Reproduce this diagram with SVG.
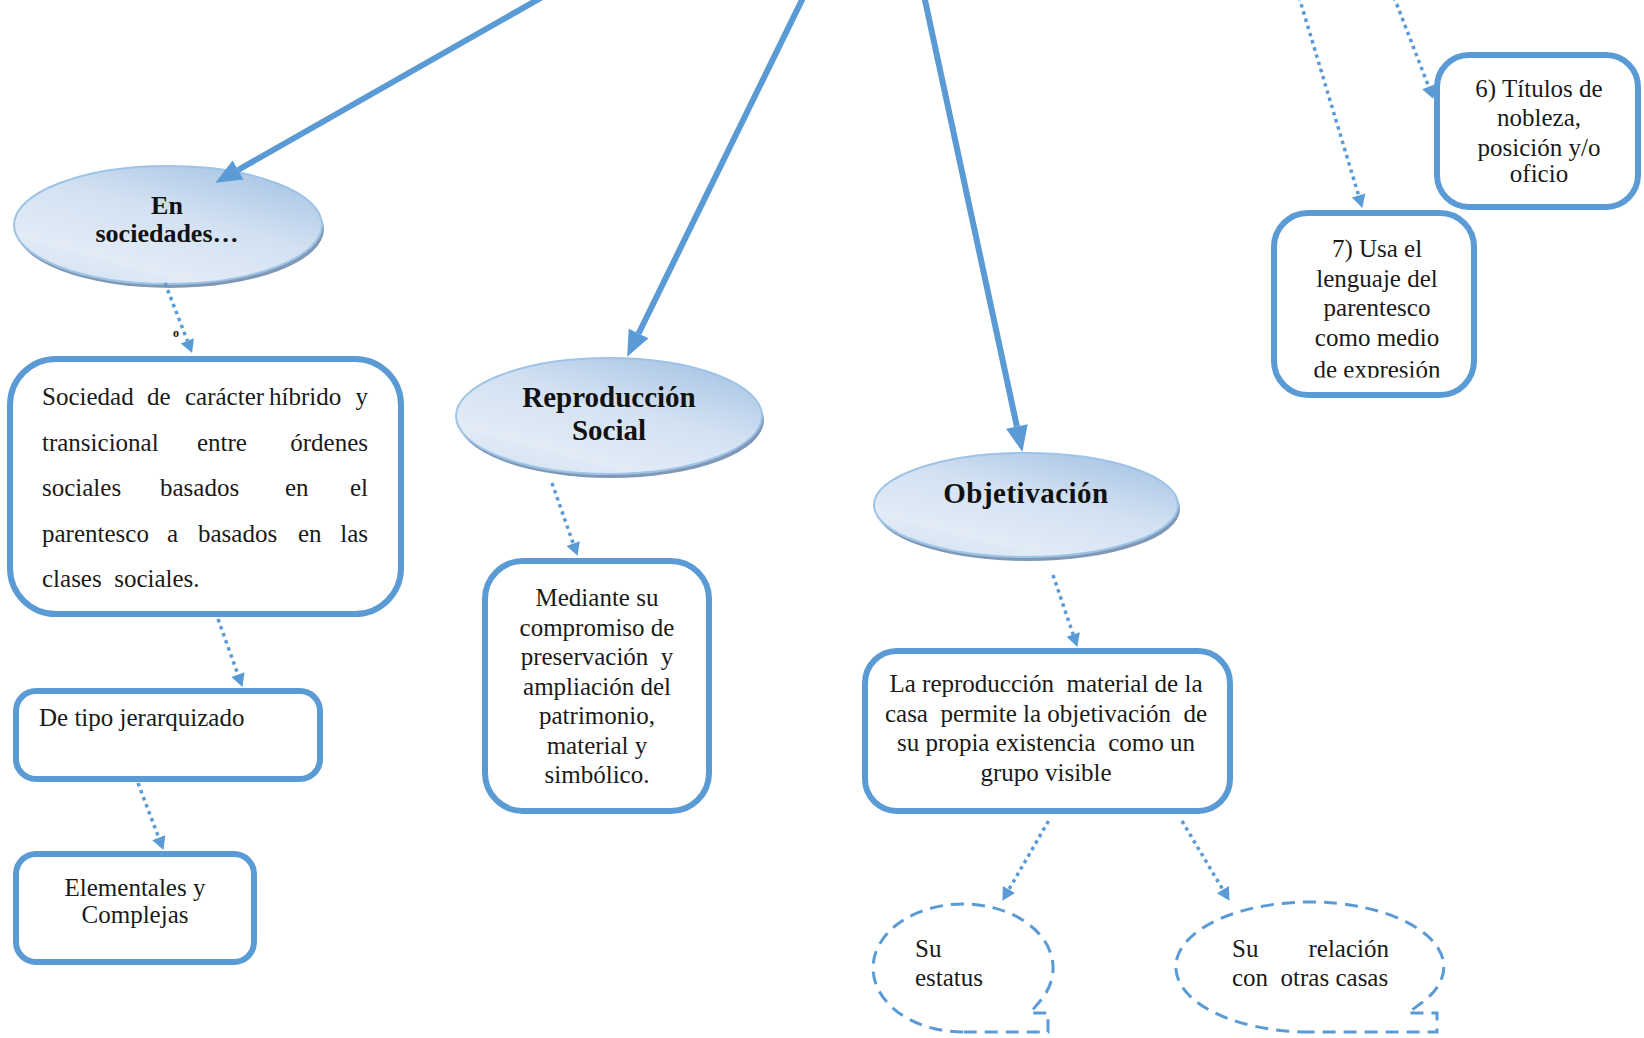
<svg xmlns="http://www.w3.org/2000/svg" width="1644" height="1038" viewBox="0 0 1644 1038">
  <style>
    .box { fill: #ffffff; stroke: #5b9bd5; stroke-width: 6; }
    .bubble { fill: url(#bubbleFill); stroke: #9dc3e6; stroke-width: 2; }
    .bubble-shadow { fill: #8098b6; }
    .title { font-family: "Liberation Serif", "DejaVu Serif", serif; font-weight: bold; fill: #111111; text-anchor: middle; }
    .body { font-family: "Liberation Serif", "DejaVu Serif", serif; font-size: 25px; fill: #1a1a1a; white-space: pre; }
    .mid { text-anchor: middle; }
    .thick { stroke: #5b9bd5; stroke-width: 6; fill: none; marker-end: url(#headBig); }
    .dotted { stroke: #5b9bd5; stroke-width: 3.5; stroke-dasharray: 3.5 4; fill: none; marker-end: url(#headSmall); }
    .callout { fill: none; stroke: #5b9bd5; stroke-width: 3; stroke-dasharray: 13 8; }
  </style>
  <defs>
    <linearGradient id="bubbleFill" x1="0.9" y1="0" x2="0.2" y2="1">
      <stop offset="0" stop-color="#a3c1e3"/>
      <stop offset="0.45" stop-color="#d2e1f2"/>
      <stop offset="0.8" stop-color="#e2ebf6"/>
      <stop offset="1" stop-color="#d3e2f2"/>
    </linearGradient>
    <marker id="headBig" markerUnits="userSpaceOnUse" markerWidth="28" markerHeight="24" refX="0" refY="0" orient="auto" overflow="visible">
      <path d="M0,-11 L26,0 L0,11 z" fill="#5b9bd5"/>
    </marker>
    <marker id="headSmall" markerUnits="userSpaceOnUse" markerWidth="14" markerHeight="14" refX="0" refY="0" orient="auto" overflow="visible">
      <path d="M0,-7 L13,0 L0,7 z" fill="#5b9bd5"/>
    </marker>
    <clipPath id="clip7">
      <rect x="1274" y="213" width="200" height="164.5"/>
    </clipPath>
  </defs>

  <rect width="1644" height="1038" fill="#ffffff"/>

  <!-- oval nodes -->
  <g id="node-sociedades">
    <ellipse class="bubble-shadow" cx="170" cy="229" rx="154" ry="59"/>
    <ellipse class="bubble" cx="168" cy="225" rx="154" ry="59"/>
    <text class="title" font-size="26" x="167" y="214">En</text>
    <text class="title" font-size="26" x="167" y="242">sociedades…</text>
  </g>

  <g id="node-reproduccion">
    <ellipse class="bubble-shadow" cx="611" cy="420" rx="153" ry="58"/>
    <ellipse class="bubble" cx="609" cy="416" rx="153" ry="58"/>
    <text class="title" font-size="29" x="609" y="407">Reproducción</text>
    <text class="title" font-size="29" x="609" y="440">Social</text>
  </g>

  <g id="node-objetivacion">
    <ellipse class="bubble-shadow" cx="1028" cy="509" rx="152" ry="52"/>
    <ellipse class="bubble" cx="1026" cy="505" rx="152" ry="52"/>
    <text class="title" font-size="29" x="1026" y="503" letter-spacing="0.5">Objetivación</text>
  </g>

  <!-- rounded boxes -->
  <g id="node-hibrido">
    <rect class="box" x="10" y="359" width="391" height="255" rx="46"/>
    <text class="body" y="405"><tspan x="42">Sociedad</tspan><tspan x="147">de</tspan><tspan x="185">carácter</tspan><tspan x="269">híbrido</tspan><tspan x="368" text-anchor="end">y</tspan></text>
    <text class="body" y="451"><tspan x="42">transicional</tspan><tspan x="197">entre</tspan><tspan x="368" text-anchor="end">órdenes</tspan></text>
    <text class="body" y="496"><tspan x="42">sociales</tspan><tspan x="160">basados</tspan><tspan x="285">en</tspan><tspan x="368" text-anchor="end">el</tspan></text>
    <text class="body" y="542"><tspan x="42">parentesco</tspan><tspan x="167">a</tspan><tspan x="198">basados</tspan><tspan x="298">en</tspan><tspan x="368" text-anchor="end">las</tspan></text>
    <text class="body" x="42" y="587">clases  sociales.</text>
  </g>

  <g id="node-jerarquizado">
    <rect class="box" x="16" y="691" width="304" height="88" rx="20"/>
    <text class="body" x="39" y="726">De tipo jerarquizado</text>
  </g>

  <g id="node-elementales">
    <rect class="box" x="16" y="854" width="238" height="108" rx="20"/>
    <text class="body mid" x="135" y="896">Elementales y</text>
    <text class="body mid" x="135" y="923">Complejas</text>
  </g>

  <g id="node-mediante">
    <rect class="box" x="485" y="561" width="224" height="250" rx="38"/>
    <text class="body mid" x="597" y="606">Mediante su</text>
    <text class="body mid" x="597" y="635.5">compromiso de</text>
    <text class="body mid" x="597" y="665">preservación  y</text>
    <text class="body mid" x="597" y="694.5">ampliación del</text>
    <text class="body mid" x="597" y="724">patrimonio,</text>
    <text class="body mid" x="597" y="753.5">material y</text>
    <text class="body mid" x="597" y="783">simbólico.</text>
  </g>

  <g id="node-visible">
    <rect class="box" x="865" y="651" width="365" height="160" rx="32"/>
    <text class="body mid" x="1046" y="692">La reproducción  material de la</text>
    <text class="body mid" x="1046" y="721.5">casa  permite la objetivación  de</text>
    <text class="body mid" x="1046" y="751">su propia existencia  como un</text>
    <text class="body mid" x="1046" y="780.5">grupo visible</text>
  </g>

  <g id="node-titulos">
    <rect class="box" x="1437" y="55" width="201" height="152" rx="32"/>
    <text class="body mid" x="1539" y="97">6) Títulos de</text>
    <text class="body mid" x="1539" y="126">nobleza,</text>
    <text class="body mid" x="1539" y="156">posición y/o</text>
    <text class="body mid" x="1539" y="182">oficio</text>
  </g>

  <g id="node-lenguaje">
    <rect class="box" x="1274" y="213" width="200" height="182" rx="34"/>
    <g clip-path="url(#clip7)">
      <text class="body mid" x="1377" y="257">7) Usa el</text>
      <text class="body mid" x="1377" y="286.5">lenguaje del</text>
      <text class="body mid" x="1377" y="316">parentesco</text>
      <text class="body mid" x="1377" y="346">como medio</text>
      <text class="body mid" x="1377" y="378">de expresión</text>
    </g>
  </g>

  <!-- dashed callouts -->
  <g id="node-estatus">
    <path class="callout" d="M963,1032 A90,64 0 1 1 1041,1000 L1030,1013 L1048,1013 L1048,1032 Z"/>
    <text class="body" x="915" y="957">Su</text>
    <text class="body" x="915" y="986">estatus</text>
  </g>

  <g id="node-relacion">
    <path class="callout" d="M1310,1032 A134,65 0 1 1 1420,1004 L1408,1013 L1437,1013 L1437,1032 Z"/>
    <text class="body" y="957"><tspan x="1232">Su</tspan><tspan x="1389" text-anchor="end">relación</tspan></text>
    <text class="body" x="1232" y="986">con  otras casas</text>
  </g>

  <!-- connectors, drawn over the nodes so the heads overlap them -->
  <g id="connectors">
    <line class="thick" x1="545.7" y1="-4.9" x2="238" y2="170"/>
    <line class="thick" x1="804.6" y1="-5.4" x2="638.6" y2="333.5"/>
    <line class="thick" x1="923.9" y1="-5" x2="1016.9" y2="426.5"/>

    <line class="dotted" x1="165" y1="283" x2="187.4" y2="340.9"/>
    <line class="dotted" x1="218" y1="619" x2="238" y2="674.7"/>
    <line class="dotted" x1="138" y1="783" x2="158.8" y2="837.8"/>
    <line class="dotted" x1="552" y1="483" x2="573.2" y2="543.6"/>
    <line class="dotted" x1="1053" y1="575" x2="1073.2" y2="634.6"/>
    <line class="dotted" x1="1048.5" y1="821" x2="1008.9" y2="889.6"/>
    <line class="dotted" x1="1182" y1="821" x2="1222.9" y2="889.7"/>
    <line class="dotted" x1="1299" y1="-3" x2="1358.6" y2="195.5"/>
    <line class="dotted" x1="1394" y1="-3" x2="1428.7" y2="86.8"/>
    <text x="176" y="337" font-family="Liberation Serif, serif" font-size="12" font-weight="bold" fill="#111" text-anchor="middle">o</text>
  </g>
</svg>
